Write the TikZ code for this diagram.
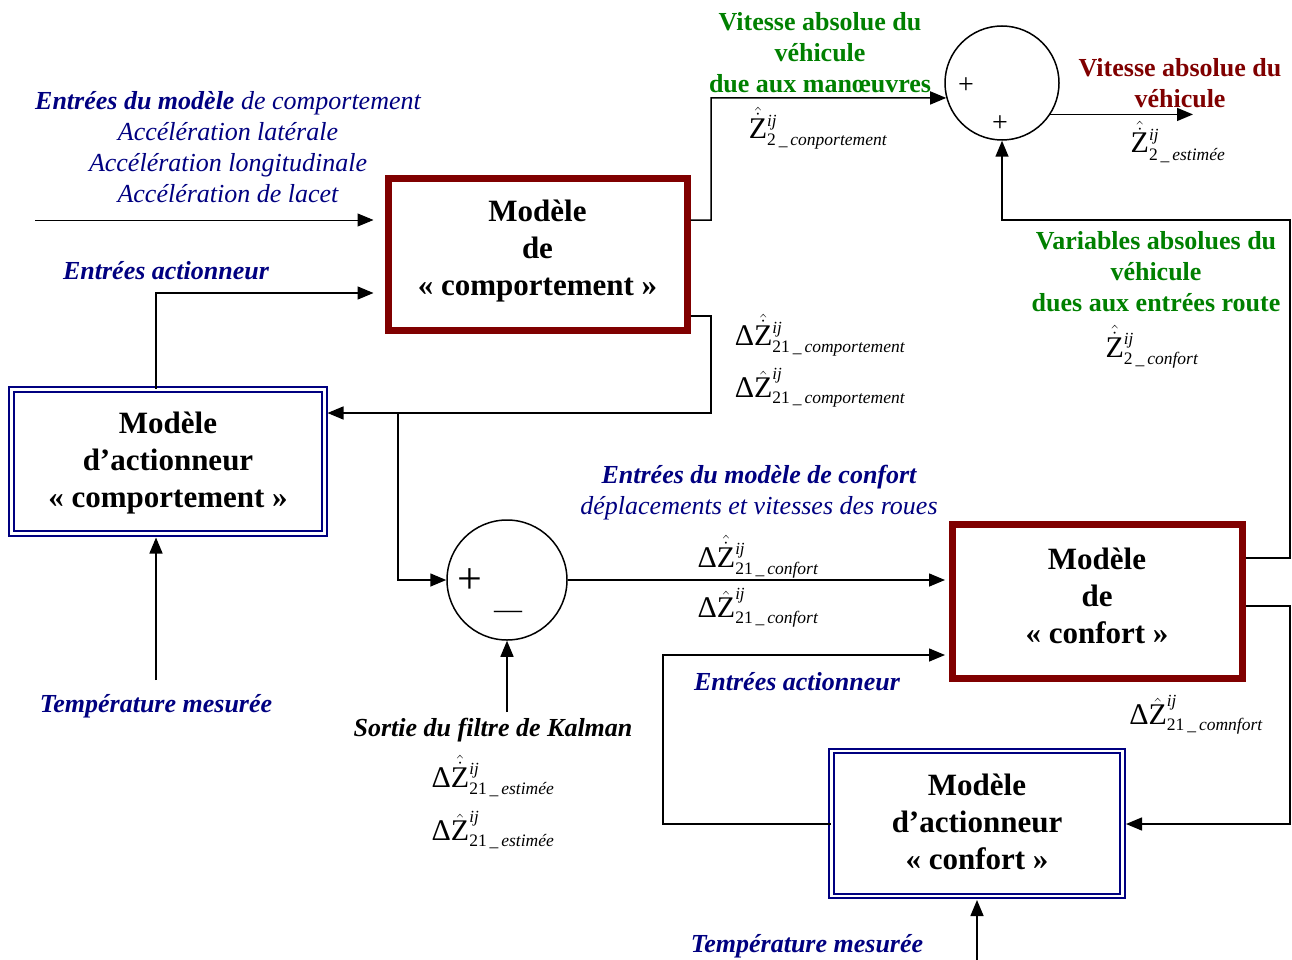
\documentclass[tikz,border=0pt]{standalone}
\usepackage{amsmath}
\usepackage{fontspec}
\setmainfont{Liberation Serif}
\usetikzlibrary{arrows.meta,calc}
\definecolor{navyb}{RGB}{0,0,128}
\definecolor{dred}{RGB}{128,0,0}
\definecolor{dgreen}{RGB}{0,128,0}
\newcommand{\Zdh}{\hat{\dot{\text{Z}}}}
\newcommand{\Zh}{\hat{\text{Z}}}
\newcommand{\Dlt}{\text{Δ}}
\newcommand{\zlab}[3]{$#1^{\text{\fontsize{17}{17}\selectfont\itshape ij}}_{\text{\fontsize{17.5}{17.5}\selectfont #2\,\_\,\itshape #3}}$}
\begin{document}
\begin{tikzpicture}[x=1pt,y=-1pt,
  wire/.style={line width=1.5pt},
  arr/.style={wire,-{Triangle[length=16pt,width=13pt]}},
  redbox/.style={draw=dred,line width=7pt,inner sep=0pt},
  bluebox/.style={draw=navyb,double=white,line width=2pt,double distance=2.5pt,inner sep=0pt},
  boxtxt/.style={align=center,inner sep=0pt,font=\fontsize{31}{37}\selectfont\bfseries},
  sumc/.style={circle,draw,line width=1.5pt,inner sep=0pt},
  itl/.style={align=center,inner sep=0pt,font=\fontsize{26}{31}\selectfont\itshape},
  bit/.style={align=center,inner sep=0pt,font=\fontsize{26}{31}\selectfont\bfseries\itshape},
  bld/.style={align=center,inner sep=0pt,font=\fontsize{26}{31}\selectfont\bfseries},
  mth/.style={inner sep=0pt,font=\fontsize{30}{32}\selectfont},
]
\useasboundingbox (0,0) rectangle (1292,960);

% blocks
\node[redbox,minimum width=299pt,minimum height=151pt] (mc) at (537.5,254.5) {};
\node[redbox,minimum width=290pt,minimum height=154pt] (cf) at (1097,601) {};
\node[bluebox,minimum width=313pt,minimum height=144pt] (ac) at (168,461.5) {};
\node[bluebox,minimum width=291pt,minimum height=145pt] (acf) at (977,823.5) {};
\node[boxtxt] (mct) at ($(mc)+(0,-3)$) {Modèle\\de\\« comportement »};
\node[boxtxt] (cft) at ($(cf)+(0,-5)$) {Modèle\\de\\« confort »};
\node[boxtxt] (act) at ($(ac)+(0,2)$) {Modèle\\d’actionneur\\« comportement »};
\node[boxtxt] (acft) at ($(acf)+(0,-2)$) {Modèle\\d’actionneur\\« confort »};
\node[sumc,minimum size=114pt] (s1) at (1002,83) {};
\node[sumc,minimum size=120pt] (s2) at (507,580) {};

% signs
\node[inner sep=0pt,font=\fontsize{28}{28}\selectfont] (p1) at (966,86) {+};
\node[inner sep=0pt,font=\fontsize{28}{28}\selectfont] (p2) at (1000,124) {+};
\node[inner sep=0pt,font=\fontsize{44}{44}\selectfont] (p3) at (470,581) {+};
\node[inner sep=0pt,font=\fontsize{28}{28}\selectfont] (m3) at (508,615) {—};

% helper coordinates
\coordinate (in1) at (35,220);
\coordinate (xa) at (156,0);
\coordinate (ya) at (0,293);
\coordinate (j1) at (398,413);
\coordinate (b1) at (711,98);
\coordinate (kal) at (507,712);
\coordinate (r1) at (1290,220);
\coordinate (r2) at (1290,824);
\coordinate (l1) at (663,655);
\coordinate (tb) at (977,960);
\coordinate (tl) at (156,680);
\coordinate (so) at (1193,0);

% connectors
\draw[arr,line width=1pt,shorten >=11pt] (in1) -- (in1 -| mc.west);
\draw[arr,shorten >=11pt] (xa |- ac.north) |- (ya -| mc.west);
\draw[arr] ([yshift=34.5pt]mc.east) -| (b1) -- (s1.195);
\draw[arr,shorten >=2pt] ([yshift=-61.5pt]mc.east) -| (b1 |- j1) -- (ac.east |- j1);
\draw[arr] (j1) |- (s2.west);
\draw[arr,shorten >=3.5pt] (s2.east) -- (cf.west |- s2.east);
\draw[arr] (kal) -- (kal |- s2.south);
\draw[arr] ([yshift=43pt]cf.east) -| (r1) -| (s1.south);
\draw[arr,shorten >=2.5pt] ([yshift=-5pt]cf.east) -| (r2) -- (acf.east |- r2);
\draw[arr,shorten >=3.5pt] (acf.west |- r2) -| (l1) -- (cf.west |- l1);
\draw[arr,shorten >=3pt] (tb) -- (acf.south);
\draw[arr,shorten >=3pt] (tl) -- (xa |- ac.south);
\draw[arr] (s1.-33) -- (so |- s1.-33);

% texts
\node[itl,text=navyb] (tin) at (228,147) {\textbf{Entrées du modèle} de comportement\\Accélération latérale\\Accélération longitudinale\\Accélération de lacet};
\node[bit,text=navyb] (tea1) at (166,271) {Entrées actionneur};
\node[bit,text=navyb] (tt1) at (156,706) {Température mesurée};
\node[bit,text=navyb] (tt2) at (807,946) {Température mesurée};
\node[bit] (tk) at (493,730) {Sortie du filtre de Kalman};
\node[itl,text=navyb] (tcf) at (759,493) {\textbf{Entrées du modèle de confort}\\déplacements et vitesses des roues};
\node[bit,text=navyb] (tea2) at (797,682) {Entrées actionneur};
\node[bld,text=dgreen] (tg1) at (820,53) {Vitesse absolue du\\véhicule\\due aux manœuvres};
\node[bld,text=dred] (tr1) at (1180,83) {Vitesse absolue du\\véhicule};
\node[bld,text=dgreen] (tg2) at (1156,272) {Variables absolues du\\véhicule\\dues aux entrées route};

% math labels
\node[mth] (z1) at (818,128) {\zlab{\Zdh}{2}{conportement}};
\node[mth] (z2) at (1178,142) {\zlab{\Zdh}{2}{estimée}};
\node[mth] (z3) at (1152,347) {\zlab{\Zdh}{2}{confort}};
\node[mth] (z4) at (820,335) {\zlab{\Dlt\Zdh}{21}{comportement}};
\node[mth] (z5) at (820,388) {\zlab{\Dlt\Zh}{21}{comportement}};
\node[mth] (z6) at (758,557) {\zlab{\Dlt\Zdh}{21}{confort}};
\node[mth] (z7) at (758,608) {\zlab{\Dlt\Zh}{21}{confort}};
\node[mth] (z8) at (493,776) {\zlab{\Dlt\Zdh}{21}{estimée}};
\node[mth] (z9) at (493,830) {\zlab{\Dlt\Zh}{21}{estimée}};
\node[mth] (z10) at (1196,715) {\zlab{\Dlt\Zh}{21}{comnfort}};
\end{tikzpicture}
\end{document}
